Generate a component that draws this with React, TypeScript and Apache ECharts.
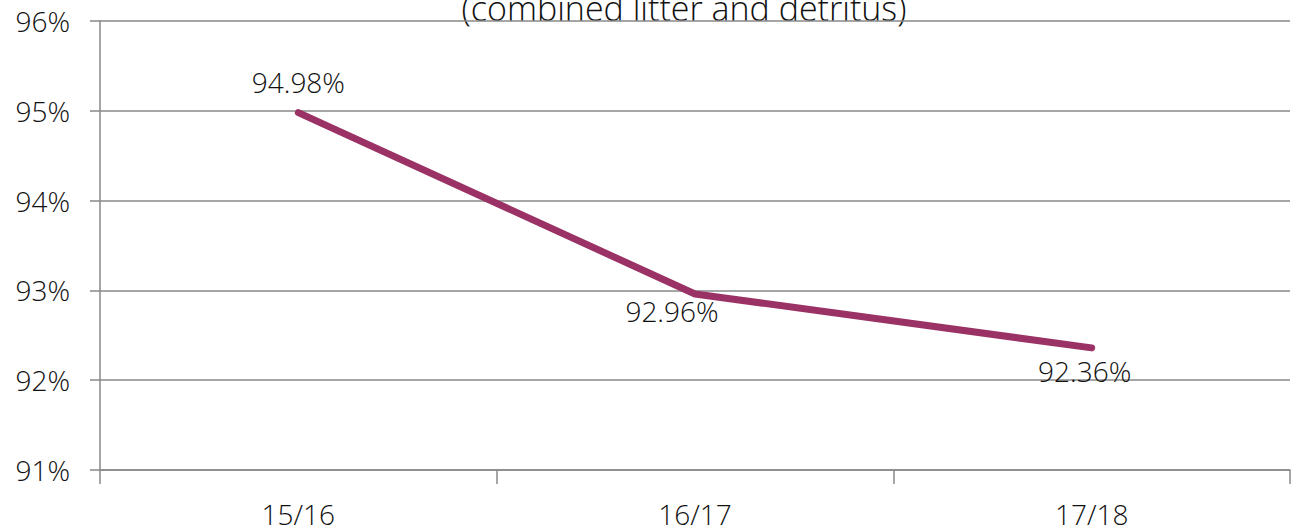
import React, { useEffect, useRef } from "react";
import * as echarts from "echarts";

const categories = ["15/16", "16/17", "17/18"];
const values = [94.98, 92.96, 92.36];
const yTicks = [91, 92, 93, 94, 95, 96];
const titleLine = "(combined litter and detritus)";

const FONT = "'Open Sans', 'Noto Sans', sans-serif";
const TEXT = "#111111";
const GRID = "#898989";

export default function App() {
  const ref = useRef<HTMLDivElement>(null);
  useEffect(() => {
    document.body.style.margin = "0";
    const chart = echarts.init(ref.current!, null, { renderer: "svg" });
    const labelCfg = [
      { position: "top", offset: [0, -11] },
      { position: "bottom", offset: [-23, -2] },
      { position: "bottom", offset: [-7, 4] },
    ];
    chart.setOption({
      animation: false,
      graphic: [
        {
          type: "text",
          style: {
            text: titleLine,
            x: 684,
            y: 25,
            align: "center",
            verticalAlign: "bottom",
            font: `300 34px ${FONT}`,
            fill: TEXT,
          },
        },
      ],
      grid: { left: 100, right: 11, top: 21, bottom: 58, containLabel: false },
      xAxis: {
        type: "category",
        data: categories,
        boundaryGap: true,
        axisLine: { show: true, lineStyle: { color: GRID, width: 1.5 } },
        axisTick: { show: true, length: 14, lineStyle: { color: GRID, width: 1.5 } },
        axisLabel: {
          margin: 30,
          fontFamily: FONT,
          fontWeight: 300,
          fontSize: 28,
          color: TEXT,
        },
      },
      yAxis: {
        type: "value",
        min: yTicks[0],
        max: yTicks[yTicks.length - 1],
        interval: 1,
        axisLine: { show: true, lineStyle: { color: GRID, width: 1.5 } },
        axisTick: { show: true, length: 10, lineStyle: { color: GRID, width: 1.5 } },
        splitLine: { show: true, lineStyle: { color: GRID, width: 1.5 } },
        axisLabel: {
          margin: 30,
          formatter: (v: number) => `${v}%`,
          fontFamily: FONT,
          fontWeight: 300,
          fontSize: 28,
          color: TEXT,
        },
      },
      series: [
        {
          type: "line",
          data: values.map((v, i) => ({
            value: v,
            label: {
              show: true,
              position: labelCfg[i].position,
              offset: labelCfg[i].offset,
            },
          })),
          showSymbol: true,
          symbol: "circle",
          symbolSize: 1,
          lineStyle: { color: "#9b3265", width: 7, cap: "round", join: "round" },
          itemStyle: { color: "#9b3265" },
          label: {
            show: true,
            formatter: (p: any) => `${Number(p.value).toFixed(2)}%`,
            fontFamily: FONT,
            fontWeight: 300,
            fontSize: 28,
            color: TEXT,
          },
        },
      ],
    });
    return () => chart.dispose();
  }, []);
  return <div ref={ref} style={{ position: "absolute", left: 0, top: 0, width: 1301, height: 528 }} />;
}
